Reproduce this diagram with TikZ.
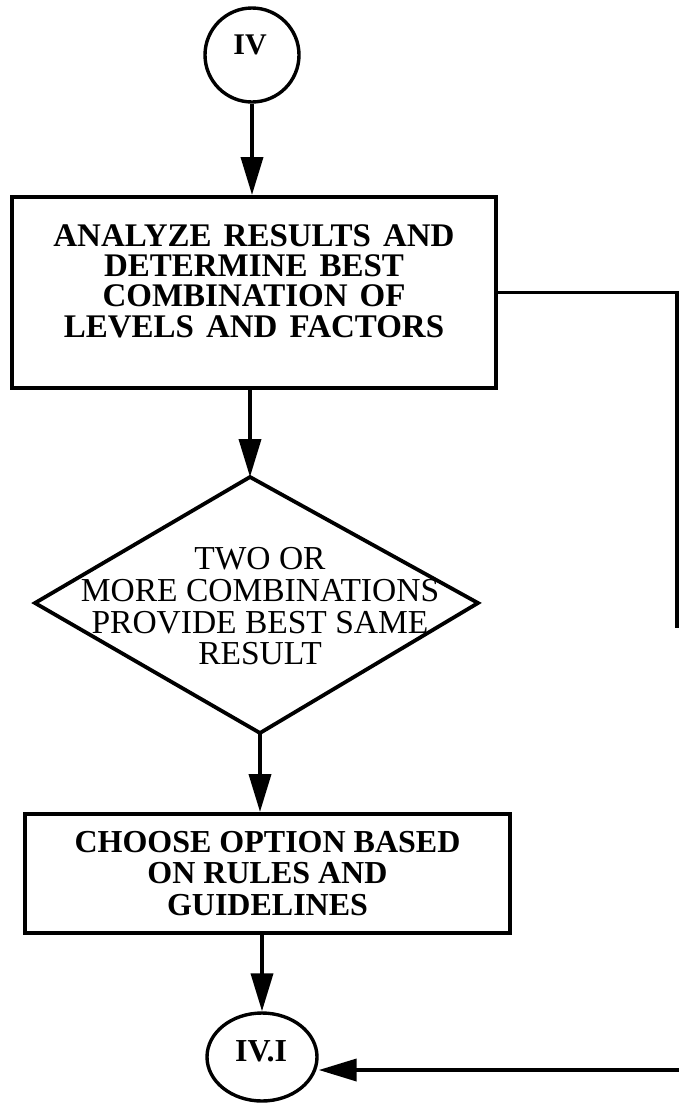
\documentclass[tikz,border=0pt]{standalone}
\usepackage{fontspec}
\setmainfont{Liberation Serif}
\usetikzlibrary{arrows.meta,shapes.geometric}
\newcommand{\widespaces}{\spaceskip=12pt\relax}
\begin{document}
\begin{tikzpicture}[x=1pt,y=-1pt,
  line/.style={line width=3.8pt},
  arr/.style={line width=3.8pt, -{Triangle[length=38pt,width=22pt]}},
  boxnode/.style={draw, line width=4pt, rectangle, inner sep=0pt},
  btext/.style={font=\bfseries\fontsize{33}{30.3}\selectfont, align=center, inner sep=0pt},
  dtext/.style={font=\fontsize{33.5}{31.7}\selectfont, align=center, inner sep=0pt},
  ctext/.style={font=\bfseries\fontsize{30}{30}\selectfont, inner sep=0pt},
  conn/.style={draw, line width=3.4pt, inner sep=0pt}
]
\useasboundingbox (0,0) rectangle (679,1106);

% connector IV at the top
\node[conn, circle, minimum size=94pt] (c4) at (252,55) {};
\node[ctext] (c4t) at (250,45) {IV};

% analysis box
\node[boxnode, minimum width=484pt, minimum height=191pt] (b1) at (254,292.5) {};
\node[btext] (b1t) at (254,281) {\widespaces ANALYZE RESULTS AND\\\widespaces DETERMINE BEST\\\widespaces COMBINATION OF\\\widespaces LEVELS AND FACTORS};

% decision diamond
\coordinate (dT) at (250,477);
\coordinate (dR) at (478,603);
\coordinate (dB) at (260,733);
\coordinate (dL) at (35,603);
\draw[line] (dT) -- (dR) -- (dB) -- (dL) -- cycle;
\node[dtext] (dt) at (260,606.5) {TWO OR\\MORE COMBINATIONS\\PROVIDE BEST SAME\\RESULT};

% choice box
\node[boxnode, minimum width=485pt, minimum height=119pt, btext, font=\bfseries\fontsize{32}{31.5}\selectfont] (b2) at (267.5,873.5) {CHOOSE OPTION BASED\\ON RULES AND\\GUIDELINES};

% connector IV.I at the bottom
\node[conn, ellipse, minimum width=110pt, minimum height=88pt] (iv1) at (262,1057) {};
\node[ctext, font=\bfseries\fontsize{32}{32}\selectfont] (iv1t) at (261,1051) {IV.I};

% main flow
\draw[arr] (c4.south) -- (c4.south |- b1.north);
\draw[arr] (dT |- b1.south) -- (dT);
\draw[arr] (dB) -- (dB |- b2.north);
\draw[arr] (iv1.north |- b2.south) -- (iv1.north);

% bypass path along the right edge
\coordinate (fbTurn) at (677,292.5);
\coordinate (fbEnd) at (677,628);
\coordinate (fbIn) at (682,1070);
\draw[line] (b1.east) -- (fbTurn) -- (fbEnd);
\draw[arr] (fbIn) -- (fbIn -| iv1.east);
\end{tikzpicture}
\end{document}
